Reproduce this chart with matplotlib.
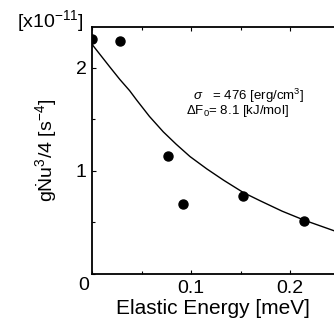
import matplotlib
matplotlib.use('Agg')
import matplotlib.pyplot as plt
from matplotlib.ticker import MultipleLocator

plt.rcParams['font.family'] = ['Liberation Sans', 'DejaVu Sans']
plt.rcParams['mathtext.fontset'] = 'custom'
plt.rcParams['mathtext.rm'] = 'Liberation Sans'
plt.rcParams['mathtext.it'] = 'Liberation Sans:italic'

# measured points (x: meV, y: units of 1e-11 s^-4)
energy = [0.0003, 0.028, 0.077, 0.092, 0.152, 0.214]
rate = [2.28, 2.26, 1.15, 0.68, 0.76, 0.515]

# fitted curve
fit_x = [0.0, 0.009, 0.018, 0.028, 0.038, 0.045, 0.058, 0.072, 0.085, 0.099,
         0.116, 0.133, 0.153, 0.170, 0.192, 0.215, 0.2444]
fit_y = [2.23, 2.12, 2.01, 1.89, 1.78, 1.69, 1.53, 1.38, 1.26, 1.14,
         1.02, 0.91, 0.79, 0.71, 0.61, 0.52, 0.42]

fig = plt.figure(figsize=(3.34, 3.26), dpi=100)
ax = fig.add_axes([92/334, 52/326, 242/334, 247/326])

ax.plot(fit_x, fit_y, color='black', linewidth=1.0)
ax.plot(energy, rate, 'o', color='black', markersize=6.5)

ax.set_xlim(0, 0.2444)
ax.set_ylim(0, 2.398)
ax.spines['right'].set_visible(False)
for s in ['left', 'bottom', 'top']:
    ax.spines[s].set_linewidth(1.3)

ax.xaxis.set_major_locator(MultipleLocator(0.1))
ax.xaxis.set_minor_locator(MultipleLocator(0.05))
ax.yaxis.set_major_locator(MultipleLocator(1))
ax.yaxis.set_minor_locator(MultipleLocator(0.5))
ax.tick_params(which='both', direction='in', top=True, right=False, width=0.8)
ax.tick_params(which='major', length=3, labelsize=14, pad=4)
ax.tick_params(which='minor', length=2)
ax.set_xticks([0.1, 0.2])
ax.set_xticklabels(['0.1', '0.2'])
ax.set_yticks([1, 2])
ax.set_yticklabels(['1', '2'])

fig.text(84/334, 1 - 286/326, '0', fontsize=14, ha='center', va='center')

ax.set_xlabel('Elastic Energy [meV]', fontsize=15, labelpad=2)
ax.set_ylabel('g\u1E44u$^3$/4 [s$^{-4}$]', fontsize=14, labelpad=12)

fig.text(50/334, 1 - 21/326, '[x10$^{-11}$]', fontsize=14, ha='center', va='center')

# fit parameters
params = '  $\\sigma$   = 476 [erg/cm$^3$]\n$\\Delta$F$_0$= 8.1 [kJ/mol]'
fig.text(186/334, 1 - 103/326, params, fontsize=9.5, ha='left', va='center',
         multialignment='left', linespacing=0.8)

fig.savefig('out.png', dpi=100)
